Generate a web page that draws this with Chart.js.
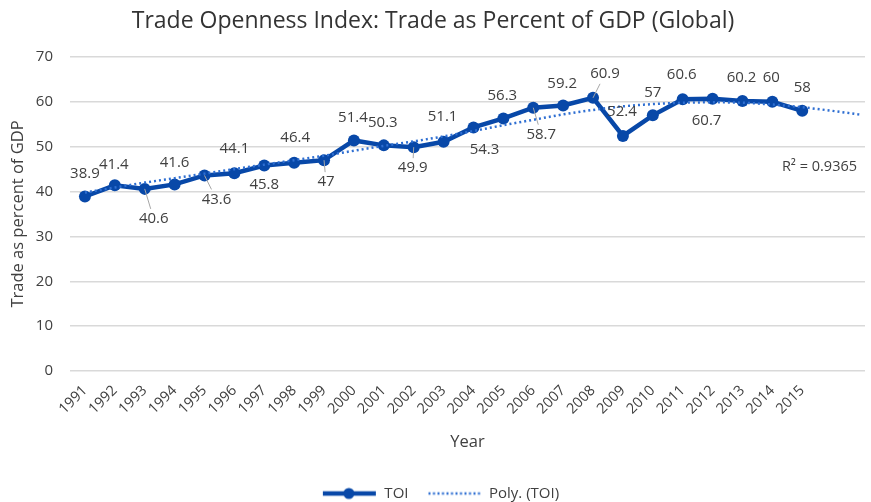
<!DOCTYPE html>
<html>
<head>
<meta charset="utf-8">
<script src="https://cdn.jsdelivr.net/npm/chart.js@4.4.1/dist/chart.umd.min.js"></script>
<style>
  body { margin: 0; background: #fff; }
  #wrap { width: 871px; height: 502px; position: relative; }
</style>
</head>
<body>
<div id="wrap"><canvas id="toiChart"></canvas></div>
<script>
// values
var years = [1991, 1992, 1993, 1994, 1995, 1996, 1997, 1998, 1999, 2000, 2001, 2002, 2003,
             2004, 2005, 2006, 2007, 2008, 2009, 2010, 2011, 2012, 2013, 2014, 2015];
var toi = [38.9, 41.4, 40.6, 41.6, 43.6, 44.1, 45.8, 46.4, 47, 51.4, 50.3, 49.9, 51.1,
           54.3, 56.3, 58.7, 59.2, 60.9, 52.4, 57, 60.6, 60.7, 60.2, 60, 58];

// polynomial trendline (Excel), runs 2 years past the data
var trendYears = [1991, 1992, 1993, 1994, 1995, 1996, 1997, 1998, 1999, 2000, 2001, 2002, 2003, 2004,
                  2005, 2006, 2007, 2008, 2009, 2010, 2011, 2012, 2013, 2014, 2015, 2016, 2017];
var trendValues = [39.8, 40.9, 42.0, 43.0, 44.0, 45.0, 46.0, 47.0, 48.0, 49.1, 50.2, 51.2, 52.3, 53.5,
                   54.8, 56.0, 57.2, 58.2, 59.0, 59.5, 59.8, 59.9, 59.8, 59.4, 58.8, 58.0, 57.1];
var rSquared = 'R\u00b2 = 0.9365';

// label placement around each point (dx, dy from the marker), and which get a leader line
var labelDx = [0, -1, 9, 0, 12, 0, 0, 1, 2, -1, -1, -1, -1, 11, -1, 8, -1, 12, -1, 0, -1, -6, -1, -1, 0];
var labelDy = [-23, -21, 30, -22, 24, -24, 19, -25, 22, -23, -23, 21, -25, 22, -23, 27, -22, -24, -24, -23, -24, 22, -23, -24, -23];
var leader = [0, 0, 1, 0, 1, 0, 0, 0, 1, 0, 0, 1, 0, 0, 0, 1, 0, 1, 0, 0, 0, 0, 0, 0, 0];

var blue = '#0848a8';
var dotBlue = '#2f6fd2';
var grey = '#404040';
var fontName = '"Open Sans", sans-serif';

// legend swatches: 70px wide, the left 16px left blank as spacing
function legendIcon(dotted) {
    var c = document.createElement('canvas');
    c.width = 70;
    c.height = 14;
    var g = c.getContext('2d');
    if (dotted) {
        g.strokeStyle = dotBlue;
        g.lineWidth = 2.5;
        g.setLineDash([2, 2.5]);
        g.beginPath();
        g.moveTo(17, 7);
        g.lineTo(69, 7);
        g.stroke();
    } else {
        g.strokeStyle = blue;
        g.lineWidth = 4.5;
        g.beginPath();
        g.moveTo(16, 7);
        g.lineTo(69, 7);
        g.stroke();
        g.fillStyle = blue;
        g.beginPath();
        g.arc(42, 7, 5.5, 0, Math.PI * 2);
        g.fill();
    }
    return c;
}

var toiPoints = [];
for (var i = 0; i < years.length; i++) {
    toiPoints.push({ x: years[i], y: toi[i] });
}
var trendPoints = [];
for (var j = 0; j < trendYears.length; j++) {
    trendPoints.push({ x: trendYears[j], y: trendValues[j] });
}

var labelPlugin = {
    id: 'toiLabels',
    afterDatasetsDraw: function(chart) {
        var ctx = chart.ctx;
        var meta = chart.getDatasetMeta(0);
        ctx.save();
        ctx.font = '15px ' + fontName;
        ctx.fillStyle = grey;
        ctx.textAlign = 'center';
        ctx.textBaseline = 'middle';
        meta.data.forEach(function(pt, k) {
            var lx = pt.x + labelDx[k];
            var ly = pt.y + labelDy[k];
            if (leader[k]) {
                var sign = labelDy[k] > 0 ? 1 : -1;
                var endY = ly - sign * 10;
                var t = (endY - pt.y) / (ly - pt.y);
                ctx.strokeStyle = '#a6a6a6';
                ctx.lineWidth = 1;
                ctx.beginPath();
                ctx.moveTo(pt.x, pt.y);
                ctx.lineTo(pt.x + (lx - pt.x) * t, endY);
                ctx.stroke();
            }
            ctx.fillText(String(toi[k]), lx, ly);
        });
        ctx.font = '14.5px ' + fontName;
        ctx.textAlign = 'right';
        ctx.fillText(rSquared, chart.chartArea.right - 8, chart.scales.y.getPixelForValue(45.5));
        ctx.restore();
    }
};

var ctx = document.getElementById('toiChart').getContext('2d');
var toiChart = new Chart(ctx, {
    type: 'line',
    data: {
        datasets: [{
            label: 'TOI',
            data: toiPoints,
            borderColor: blue,
            backgroundColor: blue,
            borderWidth: 4.5,
            pointRadius: 6,
            pointBackgroundColor: blue,
            pointBorderWidth: 0,
            order: 2
        },
        {
            label: 'Poly. (TOI)',
            data: trendPoints,
            borderColor: dotBlue,
            borderWidth: 2.5,
            borderDash: [2, 3],
            pointRadius: 0,
            cubicInterpolationMode: 'monotone',
            order: 1
        }]
    },
    options: {
        responsive: true,
        maintainAspectRatio: false,
        animation: false,
        layout: { padding: { left: 0, right: 5, top: 0, bottom: -9 } },
        plugins: {
            title: {
                display: true,
                text: 'Trade Openness Index: Trade as Percent of GDP (Global)',
                color: '#333333',
                font: { family: fontName, size: 23, weight: 'normal' },
                padding: { top: 8, bottom: 21.4 }
            },
            legend: {
                position: 'bottom',
                labels: {
                    color: grey,
                    font: { family: fontName, size: 15 },
                    usePointStyle: true,
                    pointStyleWidth: 70,
                    padding: 3,
                    generateLabels: function() {
                        return [
                            { text: 'TOI', pointStyle: legendIcon(false), fontColor: grey, lineWidth: 0, strokeStyle: 'rgba(0,0,0,0)', fillStyle: 'rgba(0,0,0,0)', datasetIndex: 0 },
                            { text: 'Poly. (TOI)', pointStyle: legendIcon(true), fontColor: grey, lineWidth: 0, strokeStyle: 'rgba(0,0,0,0)', fillStyle: 'rgba(0,0,0,0)', datasetIndex: 1 }
                        ];
                    }
                }
            },
            tooltip: { enabled: false }
        },
        scales: {
            x: {
                type: 'linear',
                min: 1990.5,
                max: 2017.1,
                grid: { display: false },
                border: { display: false },
                afterBuildTicks: function(scale) {
                    scale.ticks = years.map(function(v) { return { value: v }; });
                },
                ticks: {
                    autoSkip: false,
                    minRotation: 45,
                    maxRotation: 45,
                    color: grey,
                    font: { family: fontName, size: 14.5 },
                    callback: function(value) { return String(value); }
                },
                title: {
                    display: true,
                    text: 'Year',
                    color: grey,
                    font: { family: fontName, size: 16.5 },
                    padding: { top: 4, bottom: 31 }
                },
                afterFit: function(scale) { scale.height = 112; }
            },
            y: {
                min: 0,
                max: 70,
                grid: { color: '#d9d9d9', lineWidth: 1.5, drawTicks: false },
                border: { display: false },
                ticks: {
                    stepSize: 10,
                    color: grey,
                    padding: 17,
                    font: { family: fontName, size: 15 }
                },
                title: {
                    display: true,
                    text: 'Trade as percent of GDP',
                    color: grey,
                    font: { family: fontName, size: 16.5 },
                    padding: { top: 8, bottom: 0 }
                },
                afterFit: function(scale) { scale.width = 70; }
            }
        }
    },
    plugins: [labelPlugin]
});
</script>
</body>
</html>
